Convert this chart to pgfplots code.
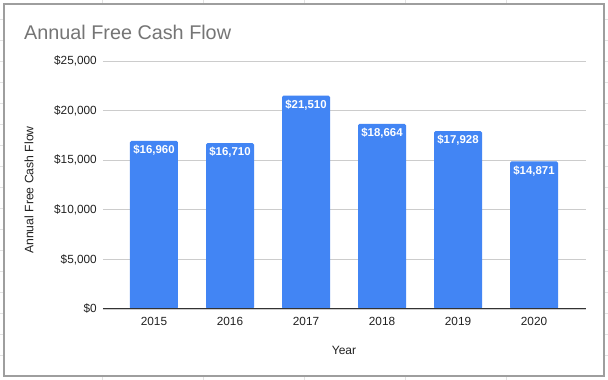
\documentclass[border=0pt]{standalone}
\usepackage{pgfplots}
\pgfplotsset{compat=1.18}
\usepackage{fontspec}
\setmainfont{Liberation Sans}
\definecolor{barblue}{HTML}{4285F4}
\definecolor{titlegray}{HTML}{757575}
\definecolor{gridgray}{HTML}{CCCCCC}
\definecolor{framegray}{HTML}{9E9E9E}
\definecolor{cellgray}{HTML}{E2E2E2}
\begin{document}
\begin{tikzpicture}[x=1pt,y=1pt]
\useasboundingbox (0,0) rectangle (608,380);
\fill[white] (0,0) rectangle (608,380);
% spreadsheet cells outside the chart frame
\foreach \xx in {102,203,304,405,506} {
  \draw[cellgray, line width=0.8pt] (\xx,376) -- (\xx,380);
  \draw[cellgray, line width=0.8pt] (\xx,0) -- (\xx,4);
}
\foreach \yy in {25,46,67,88,109,130,151,172,193,214,235,256,277,298,319,340,361} {
  \draw[cellgray, line width=0.8pt] (0,\yy) -- (4,\yy);
  \draw[cellgray, line width=0.8pt] (604,\yy) -- (608,\yy);
}
\draw[framegray, line width=1.4pt] (4,4) rectangle (604,376);
\begin{axis}[
  at={(103pt,71pt)}, anchor=south west,
  scale only axis,
  width=483pt, height=248pt,
  xmin=-0.671, xmax=5.684,
  ymin=0, ymax=25000,
  ytick={0,5000,10000,15000,20000,25000},
  xtick={0,1,2,3,4,5},
  xticklabels={2015,2016,2017,2018,2019,2020},
  axis line style={draw=none},
  major tick length=0pt,
  ymajorgrids,
  grid style={gridgray, line width=0.8pt},
  yticklabel={\$\pgfmathprintnumber{\tick}},
  /pgf/number format/.cd, fixed, 1000 sep={,}, assume math mode=true,
  /pgfplots/.cd,
  scaled y ticks=false,
  yticklabel style={font=\fontsize{11.8}{13}\selectfont, color=black!87, inner sep=0pt, anchor=east, xshift=-6pt},
  xticklabel style={font=\fontsize{11.8}{13}\selectfont, color=black!87, inner sep=0pt, anchor=north, yshift=-8pt},
  clip=false,
]
\addplot[ybar, bar width=48pt, fill=barblue, draw=none, rounded corners=1.5pt,
  nodes near coords={\$\pgfmathprintnumber{\pgfplotspointmeta}},
  every node near coord/.append style={anchor=north, inner sep=0pt, yshift=-4pt,
    text=white, font=\fontsize{11.4}{13}\selectfont\bfseries},
] coordinates {(0,16960) (1,16710) (2,21510) (3,18664) (4,17928) (5,14871)};
\draw[black!80, line width=1pt] (axis cs:-0.671,0) -- (axis cs:5.684,0);
\end{axis}
\node[anchor=base west, inner sep=0pt, text=titlegray, font=\fontsize{19.8}{23}\selectfont] at (24,340) {Annual Free Cash Flow};
\node[rotate=90, inner sep=0pt, text=black!87, font=\fontsize{12.2}{14}\selectfont] at (29,190) {Annual Free Cash Flow};
\node[anchor=north, inner sep=0pt, text=black!87, font=\fontsize{12}{14}\selectfont] at (344,34) {Year};
\end{tikzpicture}
\end{document}
